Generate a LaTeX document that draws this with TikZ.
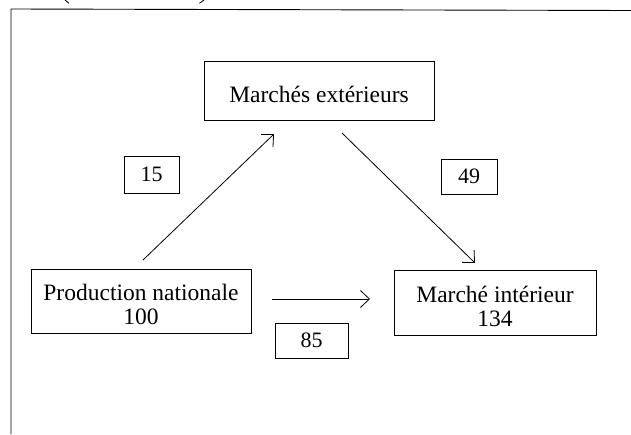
\documentclass[tikz,border=0pt]{standalone}
\usepackage{fontspec}
\setmainfont{Liberation Serif}
\usetikzlibrary{arrows.meta}
\begin{document}
\begin{tikzpicture}[x=1pt,y=-1pt,
  box/.style={draw, line width=0.9pt, rectangle, inner sep=0pt, align=center,
    font=\fontsize{23.5}{24}\selectfont},
  numbox/.style={box, font=\fontsize{22}{24}\selectfont},
  flow/.style={line width=0.8pt, -{Straight Barb[length=9pt,width=17pt,line width=0.8pt]}},
  frameline/.style={line width=0.9pt}]
\useasboundingbox (0,0) rectangle (631,434);
% frame
\draw[frameline] (631,10.5) -- (11,9) -- (11,434);
\draw[line width=0.9pt] (65,0) -- (69,3.3);
\draw[line width=0.9pt] (204,0) -- (199.5,3.3);
% boxes
\node[box, minimum width=230pt, minimum height=59pt, text height=23pt, text depth=0pt] (mext) at (319,90.5) {Marchés extérieurs};
\node[box, minimum width=220pt, minimum height=64pt] (prod) at (141,301) {\rule{0pt}{24pt}Production nationale\\100};
\node[box, minimum width=202pt, minimum height=65pt] (mint) at (495,302.5) {\rule{0pt}{24pt}Marché intérieur\\134};
\node[numbox, minimum width=55pt, minimum height=37pt] (n15) at (151.5,174.5) {15};
\node[numbox, minimum width=56pt, minimum height=35pt] (n49) at (469,176.5) {49};
\node[numbox, minimum width=73pt, minimum height=35pt] (n85) at (311.5,340.5) {85};
% connector ends
\coordinate (a1s) at (143,260);
\coordinate (a1e) at (274,134);
\coordinate (a2s) at (342,133);
\coordinate (a2e) at (475,263);
\coordinate (a3s) at (272,299);
\coordinate (a3e) at (370,299);
\draw[flow] (a1s) -- (a1e);
\draw[flow] (a2s) -- (a2e);
\draw[flow] (a3s) -- (a3e);
\end{tikzpicture}
\end{document}
